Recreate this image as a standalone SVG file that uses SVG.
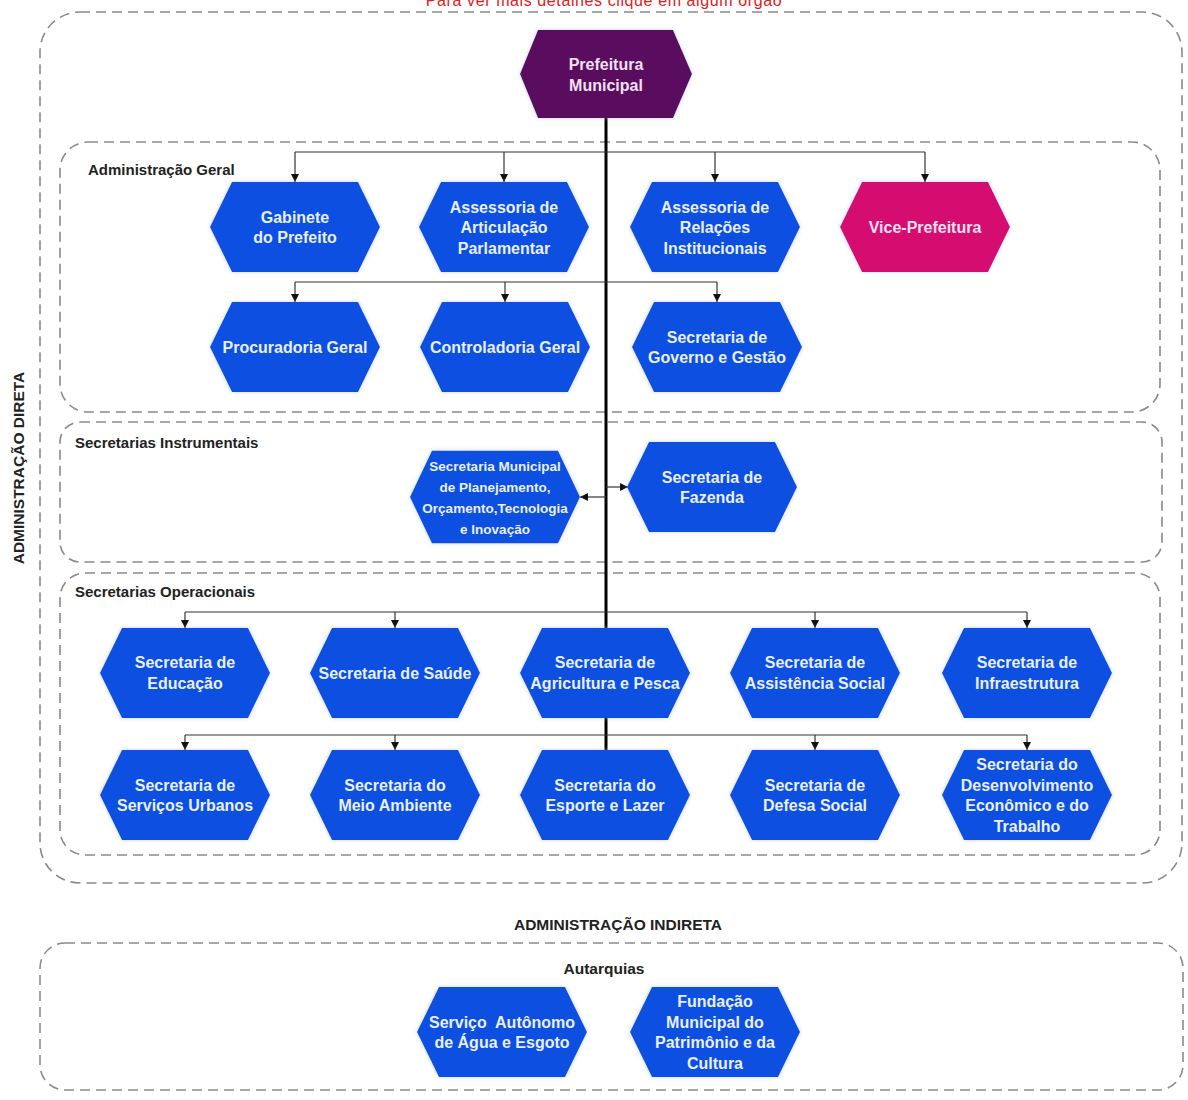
<svg xmlns="http://www.w3.org/2000/svg" xmlns:xlink="http://www.w3.org/1999/xlink" width="1188" height="1100" viewBox="0 0 1188 1100">
<style>
.box{fill:none;stroke:#8a8a8a;stroke-width:1.6;stroke-dasharray:10 6}
.lbl{font-family:"Liberation Sans",Arial,sans-serif;font-weight:bold;font-size:15px;fill:#222}
.big{font-family:"Liberation Sans",Arial,sans-serif;font-weight:bold;font-size:15.5px;fill:#222}
.blue{fill:#0b50e0;filter:url(#glow)}
.vice{fill:#d6076f;filter:url(#glow)}
.pref{fill:#5a0b5e;filter:url(#glow)}
.t{font-family:"Liberation Sans",Arial,sans-serif;font-weight:bold;font-size:16px;fill:#e8f0ff;text-anchor:middle}
.ts{font-family:"Liberation Sans",Arial,sans-serif;font-weight:bold;font-size:13.5px;fill:#e8f0ff;text-anchor:middle}
.tp{fill:#fbe0ef}
.con{fill:none;stroke:#333;stroke-width:1.2}
.arr{marker-end:url(#ah)}
.trunk{fill:none;stroke:#000;stroke-width:3}
</style>
<defs>
<filter id="glow" x="-10%" y="-15%" width="120%" height="130%">
<feDropShadow dx="0" dy="0" stdDeviation="2" flood-color="#9bb5ff" flood-opacity="0.6"/>
</filter>
<marker id="ah" markerUnits="userSpaceOnUse" markerWidth="8" markerHeight="8" refX="8" refY="4" orient="auto">
<path d="M0,0 L8,4 L0,8 z" fill="#111"/>
</marker>
<polygon id="hex" points="-85,0 -63,-45 63,-45 85,0 63,45 -63,45"/>
<polygon id="hexp" points="-86,0 -68,-44 67,-44 86,0 67,44 -68,44"/>
</defs>
<rect width="1188" height="1100" fill="#fff"/>
<text x="604" y="6" text-anchor="middle" style="font-family:'Liberation Sans',Arial,sans-serif;font-size:16px;letter-spacing:0.6px;fill:#e0201c">Para ver mais detalhes clique em algum órgão</text>

<g id="groups">
<rect class="box" x="40" y="12" width="1142" height="871" rx="40"/>
<rect class="box" x="60" y="142" width="1100" height="270" rx="28"/>
<rect class="box" x="60" y="422" width="1102" height="140" rx="20"/>
<rect class="box" x="60" y="573" width="1100" height="282" rx="25"/>
<rect class="box" x="40" y="943" width="1143" height="147" rx="25"/>
<text class="lbl" x="88" y="175">Administração Geral</text>
<text class="lbl" x="75" y="448">Secretarias Instrumentais</text>
<text class="lbl" x="75" y="597">Secretarias Operacionais</text>
<text class="big" transform="translate(24,468) rotate(-90)" text-anchor="middle">ADMINISTRAÇÃO DIRETA</text>
<text class="big" x="618" y="930" text-anchor="middle">ADMINISTRAÇÃO INDIRETA</text>
<text class="big" x="604" y="974" text-anchor="middle">Autarquias</text>
</g>

<g id="connectors">
<path class="trunk" d="M606,118 V750"/>
<path class="con" d="M295,152 H925"/>
<path class="con arr" d="M295,152 V182"/>
<path class="con arr" d="M504,152 V182"/>
<path class="con arr" d="M715,152 V182"/>
<path class="con arr" d="M925,152 V182"/>
<path class="con" d="M295,282 H717"/>
<path class="con arr" d="M295,282 V302"/>
<path class="con arr" d="M505,282 V302"/>
<path class="con arr" d="M717,282 V302"/>
<path class="con arr" d="M606,497 H580"/>
<path class="con arr" d="M606,487 H628"/>
<path class="con" d="M185,612 H1027"/>
<path class="con arr" d="M185,612 V628"/>
<path class="con arr" d="M395,612 V628"/>
<path class="con arr" d="M815,612 V628"/>
<path class="con arr" d="M1027,612 V628"/>
<path class="con" d="M185,735 H1027"/>
<path class="con arr" d="M185,735 V750"/>
<path class="con arr" d="M395,735 V750"/>
<path class="con arr" d="M815,735 V750"/>
<path class="con arr" d="M1027,735 V750"/>
</g>

<g id="prefeitura">
<use xlink:href="#hexp" href="#hexp" class="pref" transform="translate(606,74)"/>
<text class="t" style="fill:#f3e0f3"><tspan x="606" y="70">Prefeitura</tspan><tspan x="606" y="91">Municipal</tspan></text>
</g>

<g id="gabinete">
<use href="#hex" class="blue" transform="translate(295,227)"/>
<text class="t"><tspan x="295" y="223">Gabinete</tspan><tspan x="295" y="243">do Prefeito</tspan></text>
</g>
<g id="articulacao">
<use href="#hex" class="blue" transform="translate(504,227)"/>
<text class="t"><tspan x="504" y="212.5">Assessoria de</tspan><tspan x="504" y="233">Articulação</tspan><tspan x="504" y="253.5">Parlamentar</tspan></text>
</g>
<g id="relacoes">
<use href="#hex" class="blue" transform="translate(715,227)"/>
<text class="t"><tspan x="715" y="212.5">Assessoria de</tspan><tspan x="715" y="233">Relações</tspan><tspan x="715" y="253.5">Institucionais</tspan></text>
</g>
<g id="vice">
<use href="#hex" class="vice" transform="translate(925,227)"/>
<text class="t tp" x="925" y="233">Vice-Prefeitura</text>
</g>
<g id="procuradoria">
<use href="#hex" class="blue" transform="translate(295,347)"/>
<text class="t" x="295" y="353">Procuradoria Geral</text>
</g>
<g id="controladoria">
<use href="#hex" class="blue" transform="translate(505,347)"/>
<text class="t" x="505" y="353">Controladoria Geral</text>
</g>
<g id="governo">
<use href="#hex" class="blue" transform="translate(717,347)"/>
<text class="t"><tspan x="717" y="343">Secretaria de</tspan><tspan x="717" y="363">Governo e Gestão</tspan></text>
</g>

<g id="planejamento">
<use href="#hex" class="blue" transform="translate(495,497) scale(1,1.03)"/>
<text class="ts"><tspan x="495" y="470.5">Secretaria Municipal</tspan><tspan x="495" y="491.5">de Planejamento,</tspan><tspan x="495" y="512.5">Orçamento,Tecnologia</tspan><tspan x="495" y="533.5">e Inovação</tspan></text>
</g>
<g id="fazenda">
<use href="#hex" class="blue" transform="translate(712,487)"/>
<text class="t"><tspan x="712" y="483">Secretaria de</tspan><tspan x="712" y="503">Fazenda</tspan></text>
</g>

<g id="educacao">
<use href="#hex" class="blue" transform="translate(185,673)"/>
<text class="t"><tspan x="185" y="668">Secretaria de</tspan><tspan x="185" y="689">Educação</tspan></text>
</g>
<g id="saude">
<use href="#hex" class="blue" transform="translate(395,673)"/>
<text class="t" x="395" y="679">Secretaria de Saúde</text>
</g>
<g id="agricultura">
<use href="#hex" class="blue" transform="translate(605,673)"/>
<text class="t"><tspan x="605" y="668">Secretaria de</tspan><tspan x="605" y="689">Agricultura e Pesca</tspan></text>
</g>
<g id="assistencia">
<use href="#hex" class="blue" transform="translate(815,673)"/>
<text class="t"><tspan x="815" y="668">Secretaria de</tspan><tspan x="815" y="689">Assistência Social</tspan></text>
</g>
<g id="infraestrutura">
<use href="#hex" class="blue" transform="translate(1027,673)"/>
<text class="t"><tspan x="1027" y="668">Secretaria de</tspan><tspan x="1027" y="689">Infraestrutura</tspan></text>
</g>

<g id="servicos-urbanos">
<use href="#hex" class="blue" transform="translate(185,795)"/>
<text class="t"><tspan x="185" y="791">Secretaria de</tspan><tspan x="185" y="811">Serviços Urbanos</tspan></text>
</g>
<g id="meio-ambiente">
<use href="#hex" class="blue" transform="translate(395,795)"/>
<text class="t"><tspan x="395" y="791">Secretaria do</tspan><tspan x="395" y="811">Meio Ambiente</tspan></text>
</g>
<g id="esporte">
<use href="#hex" class="blue" transform="translate(605,795)"/>
<text class="t"><tspan x="605" y="791">Secretaria do</tspan><tspan x="605" y="811">Esporte e Lazer</tspan></text>
</g>
<g id="defesa">
<use href="#hex" class="blue" transform="translate(815,795)"/>
<text class="t"><tspan x="815" y="791">Secretaria de</tspan><tspan x="815" y="811">Defesa Social</tspan></text>
</g>
<g id="desenvolvimento">
<use href="#hex" class="blue" transform="translate(1027,795)"/>
<text class="t"><tspan x="1027" y="770">Secretaria do</tspan><tspan x="1027" y="790.5">Desenvolvimento</tspan><tspan x="1027" y="811">Econômico e do</tspan><tspan x="1027" y="831.5">Trabalho</tspan></text>
</g>

<g id="saae">
<use href="#hex" class="blue" transform="translate(502,1032)"/>
<text class="t" style="white-space:pre"><tspan x="502" y="1028">Serviço  Autônomo</tspan><tspan x="502" y="1048">de Água e Esgoto</tspan></text>
</g>
<g id="fundacao">
<use href="#hex" class="blue" transform="translate(715,1032)"/>
<text class="t"><tspan x="715" y="1007">Fundação</tspan><tspan x="715" y="1027.5">Municipal do</tspan><tspan x="715" y="1048">Patrimônio e da</tspan><tspan x="715" y="1068.5">Cultura</tspan></text>
</g>
</svg>
